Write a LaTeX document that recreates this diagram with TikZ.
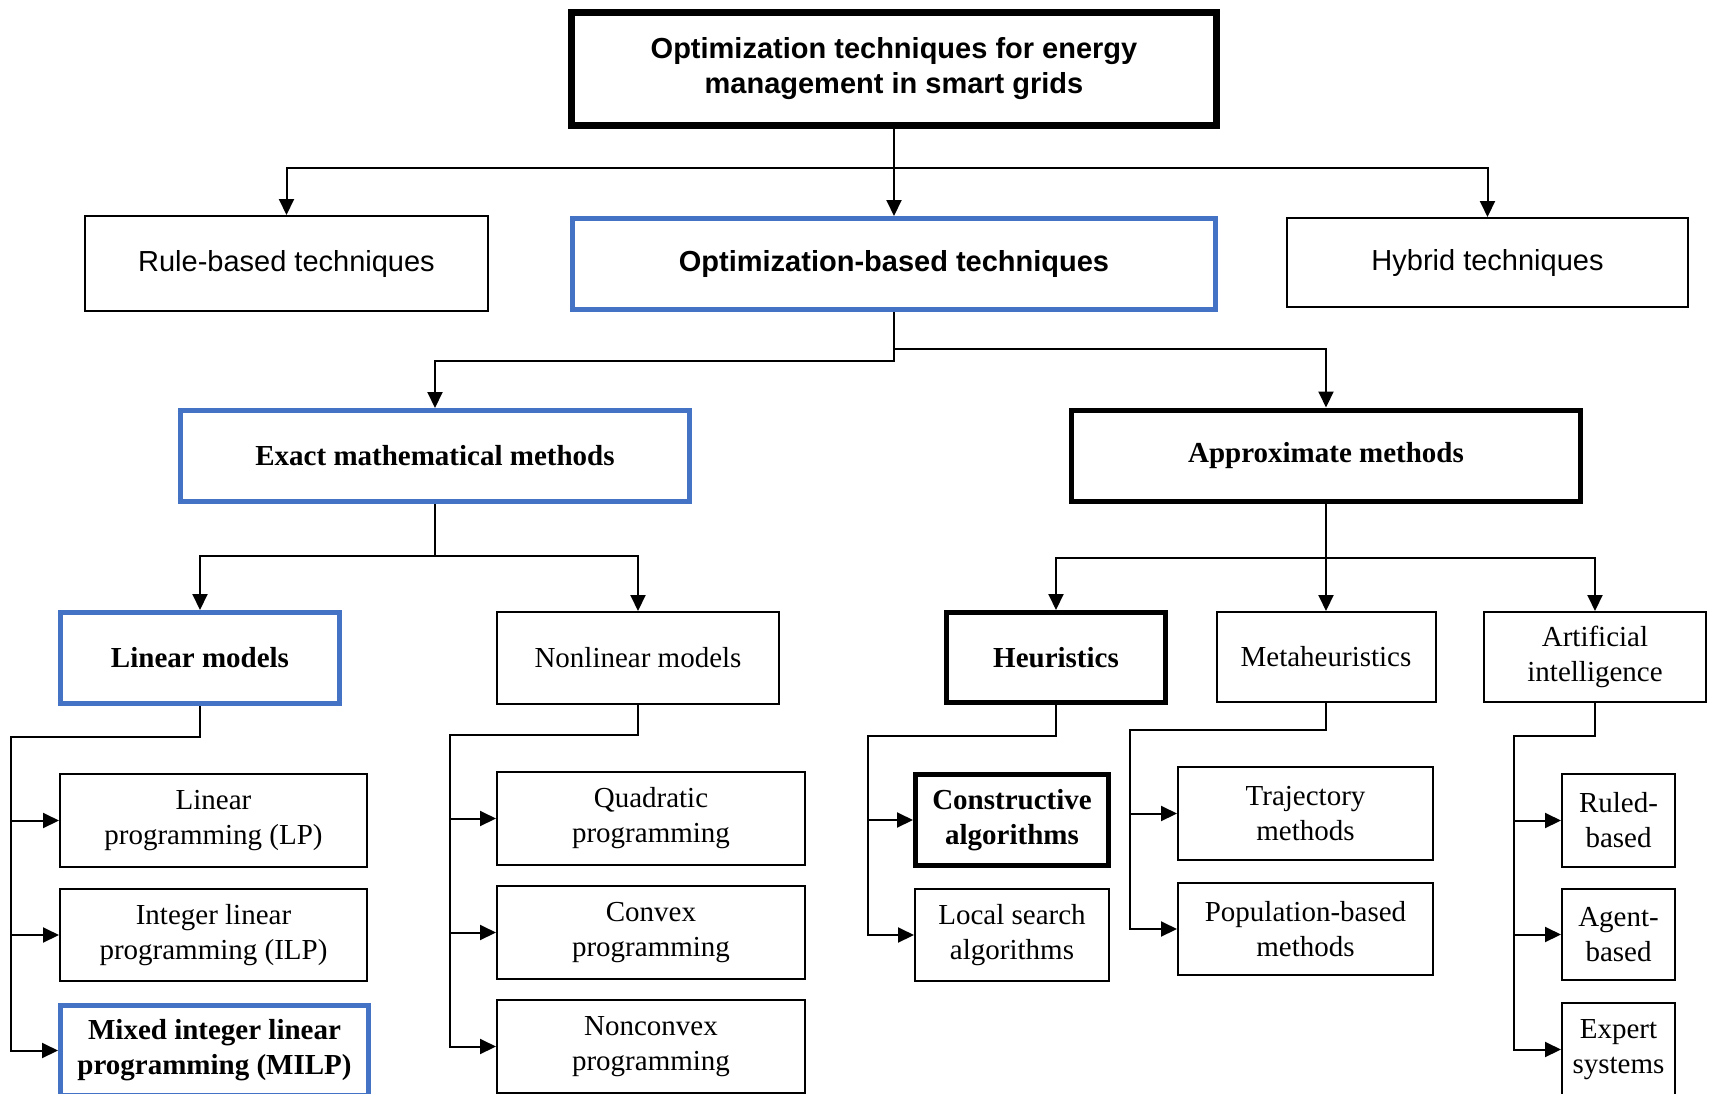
\documentclass[tikz,border=0pt]{standalone}
\usepackage{fontspec}
\setmainfont{Liberation Serif}
\newfontfamily\arialfont{Liberation Sans}
\usetikzlibrary{arrows.meta}
\definecolor{frameblue}{RGB}{68,114,196}
\tikzset{
  box/.style={draw=black, line width=2pt, rectangle, align=center, inner sep=2pt,
    font=\fontsize{29}{35}\selectfont},
  sansbox/.style={box, font=\arialfont\fontsize{29}{35}\selectfont},
  bluebox/.style={box, draw=frameblue, line width=5pt},
  heavybox/.style={box, line width=5pt},
  arr/.style={line width=2pt, -{Triangle[length=16pt,width=15pt]}},
}
\begin{document}
\begin{tikzpicture}[x=1pt, y=-1pt]
\clip (0,0) rectangle (1709,1093);
\fill[white] (0,0) rectangle (1709,1093);

% level 0
\node[sansbox, line width=7pt, minimum width=645pt, minimum height=113pt,
      font=\arialfont\bfseries\fontsize{29}{35}\selectfont] (top) at (894,69)
  {Optimization techniques for energy\\management in smart grids};

% level 1
\node[sansbox, minimum width=403pt, minimum height=95pt] (rule) at (286.5,263.5) {Rule-based techniques};
\node[sansbox, draw=frameblue, line width=5pt, minimum width=643pt, minimum height=91pt,
      font=\arialfont\bfseries\fontsize{29}{35}\selectfont] (opt) at (894,264) {Optimization-based techniques};
\node[sansbox, minimum width=401pt, minimum height=89pt] (hyb) at (1487.5,262.5) {Hybrid techniques};

% level 2
\node[bluebox, minimum width=509pt, minimum height=91pt, font=\bfseries\fontsize{29}{35}\selectfont] (exact) at (435,456) {Exact mathematical methods};
\node[heavybox, minimum width=509pt, minimum height=91pt, font=\bfseries\fontsize{29}{35}\selectfont] (approx) at (1326,455.5) {Approximate methods};

% level 3
\node[bluebox, minimum width=279pt, minimum height=91pt, font=\bfseries\fontsize{29}{35}\selectfont] (lin) at (200,658) {Linear models};
\node[box, minimum width=282pt, minimum height=92pt] (nonlin) at (638,658) {Nonlinear models};
\node[heavybox, minimum width=219pt, minimum height=90pt, font=\bfseries\fontsize{29}{35}\selectfont] (heur) at (1056,657.5) {Heuristics};
\node[box, minimum width=219pt, minimum height=90pt] (meta) at (1326,657) {Metaheuristics};
\node[box, minimum width=222pt, minimum height=90pt] (ai) at (1595,657) {Artificial\\intelligence};

% level 4: linear models
\node[box, minimum width=307pt, minimum height=93pt] (lp) at (213.5,820.5) {Linear\\programming (LP)};
\node[box, minimum width=307pt, minimum height=92pt] (ilp) at (213.5,935) {Integer linear\\programming (ILP)};
\node[bluebox, minimum width=308pt, minimum height=90pt, font=\bfseries\fontsize{29}{35}\selectfont] (milp) at (214.5,1050.5) {Mixed integer linear\\programming (MILP)};

% level 4: nonlinear models
\node[box, minimum width=308pt, minimum height=93pt] (qp) at (651,818.5) {Quadratic\\programming};
\node[box, minimum width=308pt, minimum height=93pt] (cvx) at (651,932.5) {Convex\\programming};
\node[box, minimum width=308pt, minimum height=93pt] (ncvx) at (651,1046.5) {Nonconvex\\programming};

% level 4: heuristics
\node[heavybox, minimum width=193pt, minimum height=91pt, font=\bfseries\fontsize{29}{35}\selectfont] (cons) at (1012,820) {Constructive\\algorithms};
\node[box, minimum width=194pt, minimum height=92pt] (local) at (1012,935) {Local search\\algorithms};

% level 4: metaheuristics
\node[box, minimum width=255pt, minimum height=93pt] (traj) at (1305.5,813.5) {Trajectory\\methods};
\node[box, minimum width=255pt, minimum height=92pt] (pop) at (1305.5,929) {Population-based\\methods};

% level 4: artificial intelligence
\node[box, minimum width=113pt, minimum height=93pt] (ruled) at (1618.5,820.5) {Ruled-\\based};
\node[box, minimum width=113pt, minimum height=91pt] (agent) at (1618.5,934.5) {Agent-\\based};
\node[box, minimum width=113pt, minimum height=93pt] (expert) at (1618.5,1049.5) {Expert\\systems};

% spines of the side branches
\coordinate (linspine) at (11,0);
\coordinate (nlspine) at (450,0);
\coordinate (heurspine) at (868,0);
\coordinate (metaspine) at (1130,0);
\coordinate (aispine) at (1514,0);

% connectors: level 0 -> 1
\draw[arr] (top.south) -- (opt.north);
\draw[arr] (top.south) -- ++(0,39) -| (rule.north);
\draw[arr] (top.south) -- ++(0,39) -| (hyb.north);

% connectors: level 1 -> 2
\draw[arr] (opt.south) -- ++(0,49) -| (exact.north);
\draw[arr] (opt.south) -- ++(0,37) -| (approx.north);

% connectors: level 2 -> 3
\draw[arr] (exact.south) -- ++(0,52) -| (lin.north);
\draw[arr] (exact.south) -- ++(0,52) -| (nonlin.north);
\draw[arr] (approx.south) -- ++(0,54) -| (heur.north);
\draw[arr] (approx.south) -- (meta.north);
\draw[arr] (approx.south) -- ++(0,54) -| (ai.north);

% connectors: level 3 -> 4
\foreach \t in {lp,ilp,milp}
  \draw[arr] (lin.south) -- ++(0,31) -| (linspine |- \t.west) -- (\t.west);
\foreach \t in {qp,cvx,ncvx}
  \draw[arr] (nonlin.south) -- ++(0,30) -| (nlspine |- \t.west) -- (\t.west);
\foreach \t in {cons,local}
  \draw[arr] (heur.south) -- ++(0,31) -| (heurspine |- \t.west) -- (\t.west);
\foreach \t in {traj,pop}
  \draw[arr] (meta.south) -- ++(0,27) -| (metaspine |- \t.west) -- (\t.west);
\foreach \t in {ruled,agent,expert}
  \draw[arr] (ai.south) -- ++(0,33) -| (aispine |- \t.west) -- (\t.west);
\end{tikzpicture}
\end{document}
